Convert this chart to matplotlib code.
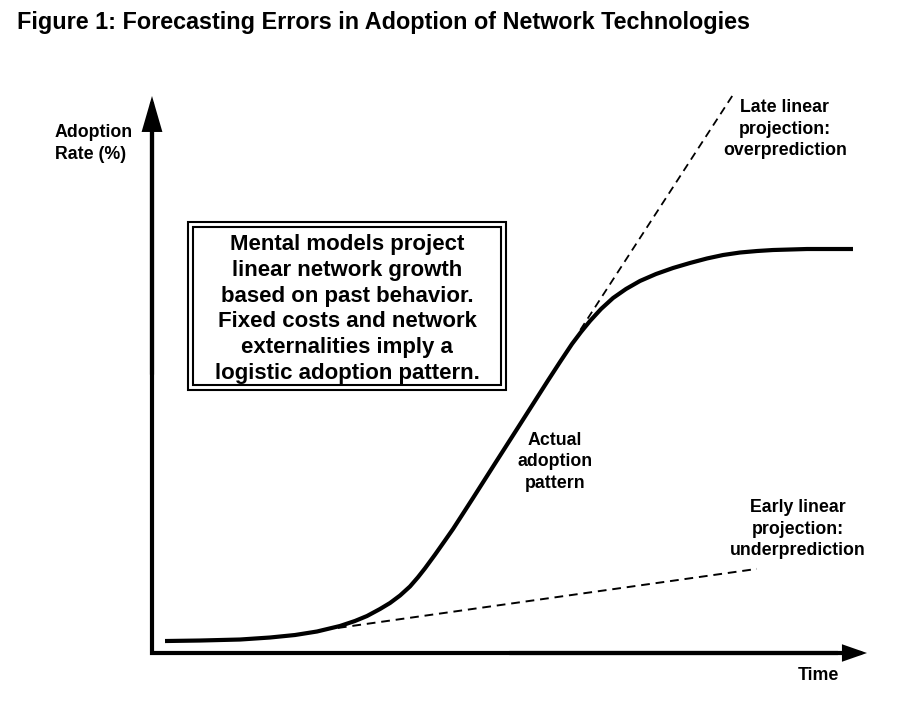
import matplotlib
matplotlib.use("Agg")
import matplotlib.pyplot as plt
from matplotlib.patches import Rectangle

plt.rcParams['font.family'] = ['Liberation Sans', 'DejaVu Sans']

# actual adoption curve (time 0-100, adoption 0-100)
time_actual = [1.82, 6.71, 12.31, 16.50, 20.00, 23.08, 26.29, 28.39, 30.07, 31.89, 33.29,
               34.69, 36.08, 37.20, 38.18, 39.58, 40.98, 42.10, 43.50, 44.90, 47.97, 51.19,
               55.38, 57.06, 58.74, 60.00, 61.26, 62.80, 64.48, 66.29, 68.25, 70.49, 72.87,
               75.24, 77.62, 79.86, 82.24, 84.62, 86.85, 91.61, 98.04]
adopt_actual = [2.15, 2.24, 2.42, 2.78, 3.23, 3.86, 4.85, 5.75, 6.64, 7.90, 8.98,
                10.32, 11.94, 13.60, 15.20, 17.65, 20.20, 22.26, 25.04, 27.83, 34.02, 40.48,
                48.92, 52.24, 55.48, 57.63, 59.61, 61.76, 63.73, 65.35, 66.79, 68.04, 69.12,
                70.02, 70.83, 71.45, 71.90, 72.17, 72.35, 72.53, 72.53]

# linear projections
time_early = [26.0, 84.6]
adopt_early = [4.5, 15.1]
time_late = [59.9, 81.4]
adopt_late = [58.0, 100.5]

W, H = 915, 705


def fx(x):
    return x / W


def fy(y):
    return 1 - y / H


fig = plt.figure(figsize=(9.15, 7.05), dpi=100)
ax = fig.add_axes([fx(152), fy(653), (867 - 152) / W, (653 - 96) / H])
ax.set_xlim(0, 100)
ax.set_ylim(0, 100)
ax.axis('off')

# axes with arrows
ax.plot([0, 0, 96], [94, 0, 0], color='black', lw=3, solid_joinstyle='miter',
        solid_capstyle='butt', clip_on=False)
ax.annotate('', xy=(0, 1), xytext=(0, 0.5), xycoords='axes fraction',
            arrowprops=dict(arrowstyle='-|>,head_length=1.9,head_width=0.55', lw=3,
                            color='black', shrinkA=0, shrinkB=0, mutation_scale=10,
                            joinstyle='miter'))
ax.annotate('', xy=(1, 0), xytext=(0.5, 0), xycoords='axes fraction',
            arrowprops=dict(arrowstyle='-|>,head_length=1.2,head_width=0.42', lw=3,
                            color='black', shrinkA=0, shrinkB=0, mutation_scale=10,
                            joinstyle='miter'))

ax.plot(time_actual, adopt_actual, color='black', lw=3, solid_capstyle='butt',
        solid_joinstyle='round', clip_on=False)
ax.plot(time_early, adopt_early, color='black', lw=1.4, dashes=(4.5, 3), clip_on=False)
ax.plot(time_late, adopt_late, color='black', lw=1.3, dashes=(4.5, 3), clip_on=False)

# title
fig.text(fx(17), fy(22), 'Figure 1: Forecasting Errors in Adoption of Network Technologies',
         fontsize=16.85, fontweight='bold', ha='left', va='center')

lab = dict(fontsize=12.8, fontweight='bold', ha='center', va='center', linespacing=1.32)
fig.text(fx(55), fy(143.5), 'Adoption\nRate (%)', fontsize=12.8, fontweight='bold',
         ha='left', va='center', linespacing=1.32)
fig.text(fx(555), fy(462), 'Actual\nadoption\npattern', **lab)
fig.text(fx(785), fy(129), 'Late linear\nprojection:\noverprediction', **lab)
fig.text(fx(798), fy(529), 'Early linear\nprojection:\nunderprediction', **lab)
fig.text(fx(818), fy(676), 'Time', **lab)

# double-bordered text box
fig.patches.append(Rectangle((fx(188), fy(390)), (506 - 188) / W, (390 - 222) / H,
                             transform=fig.transFigure, fill=False, lw=1.5, ec='black'))
fig.patches.append(Rectangle((fx(193), fy(385)), (501 - 193) / W, (385 - 227) / H,
                             transform=fig.transFigure, fill=False, lw=1.5, ec='black'))
fig.text(fx(347), fy(309),
         'Mental models project\nlinear network growth\nbased on past behavior.\n'
         'Fixed costs and network\nexternalities imply a\nlogistic adoption pattern.',
         fontsize=16.0, fontweight='bold', ha='center', va='center', linespacing=1.29)

fig.savefig('out.png', dpi=100)
